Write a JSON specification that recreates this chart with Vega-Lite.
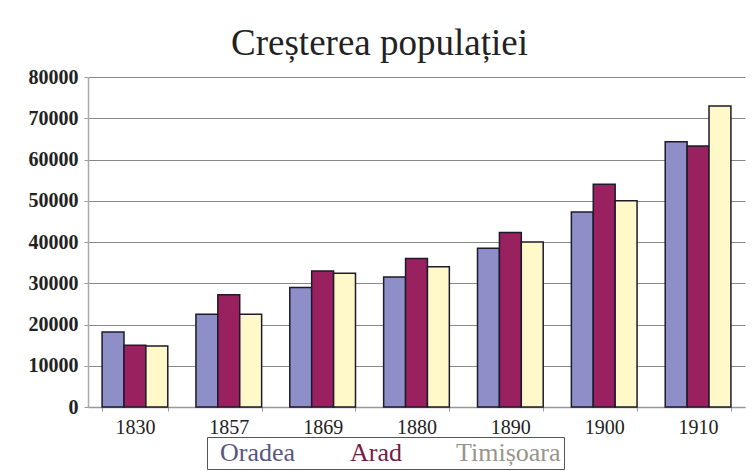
{
  "$schema": "https://vega.github.io/schema/vega-lite/v6.json",
  "width": 657,
  "height": 330,
  "autosize": "none",
  "padding": {"left": 88, "top": 77, "right": 8, "bottom": 64},
  "background": "white",
  "title": {
    "text": "Creșterea populației",
    "font": "Liberation Serif",
    "fontSize": 37,
    "fontWeight": "normal",
    "color": "#222222",
    "anchor": "middle",
    "dx": -37,
    "dy": 44,
    "baseline": "alphabetic",
    "offset": 19
  },
  "data": {
    "values": [
      {"year": "1830", "city": "Oradea", "population": 18200},
      {"year": "1830", "city": "Arad", "population": 15000},
      {"year": "1830", "city": "Timișoara", "population": 14800},
      {"year": "1857", "city": "Oradea", "population": 22500},
      {"year": "1857", "city": "Arad", "population": 27200},
      {"year": "1857", "city": "Timișoara", "population": 22500},
      {"year": "1869", "city": "Oradea", "population": 29000},
      {"year": "1869", "city": "Arad", "population": 33000},
      {"year": "1869", "city": "Timișoara", "population": 32400},
      {"year": "1880", "city": "Oradea", "population": 31500},
      {"year": "1880", "city": "Arad", "population": 36000},
      {"year": "1880", "city": "Timișoara", "population": 34000},
      {"year": "1890", "city": "Oradea", "population": 38500},
      {"year": "1890", "city": "Arad", "population": 42300},
      {"year": "1890", "city": "Timișoara", "population": 40000},
      {"year": "1900", "city": "Oradea", "population": 47300},
      {"year": "1900", "city": "Arad", "population": 54000},
      {"year": "1900", "city": "Timișoara", "population": 50000},
      {"year": "1910", "city": "Oradea", "population": 64300},
      {"year": "1910", "city": "Arad", "population": 63300},
      {"year": "1910", "city": "Timișoara", "population": 73000}
    ]
  },
  "mark": {"type": "bar", "stroke": "#1e1a2a", "strokeWidth": 1.5},
  "encoding": {
    "x": {
      "field": "year",
      "type": "nominal",
      "scale": {"paddingInner": 0.3, "paddingOuter": 0.15},
      "axis": {
        "title": null,
        "labelAngle": 0,
        "labelFont": "Liberation Serif",
        "labelFontSize": 20,
        "labelColor": "#222222",
        "labelPadding": 6,
        "domainColor": "#999999",
        "domainWidth": 1.5,
        "tickColor": "#999999",
        "tickSize": 4,
        "tickBand": "extent"
      }
    },
    "xOffset": {
      "field": "city",
      "type": "nominal",
      "sort": ["Oradea", "Arad", "Timișoara"],
      "scale": {"paddingInner": 0, "paddingOuter": 0}
    },
    "y": {
      "field": "population",
      "type": "quantitative",
      "scale": {"domain": [0, 80000], "nice": false},
      "axis": {
        "title": null,
        "values": [0, 10000, 20000, 30000, 40000, 50000, 60000, 70000, 80000],
        "format": "d",
        "labelFont": "Liberation Serif",
        "labelFontSize": 20,
        "labelFontWeight": "bold",
        "labelColor": "#222222",
        "labelPadding": 6,
        "domainColor": "#aaaaaa",
        "domainWidth": 1.5,
        "tickColor": "#999999",
        "tickSize": 4,
        "grid": true,
        "gridColor": "#888888",
        "gridWidth": 1.2
      }
    },
    "color": {
      "field": "city",
      "type": "nominal",
      "sort": ["Oradea", "Arad", "Timișoara"],
      "scale": {"domain": ["Oradea", "Arad", "Timișoara"], "range": ["#8e8ec8", "#9a2160", "#fff8c8"]},
      "legend": {
        "title": null,
        "orient": "none",
        "legendX": 119,
        "legendY": 360,
        "direction": "horizontal",
        "symbolType": "circle",
        "symbolSize": 1,
        "symbolStrokeWidth": 0,
        "symbolOpacity": 0,
        "labelOffset": -16,
        "labelFont": "Liberation Serif",
        "labelFontSize": 26,
        "labelColor": {"expr": "datum.value === 'Oradea' ? '#56567f' : datum.value === 'Arad' ? '#741c48' : '#97958b'"},
        "columnPadding": 44,
        "padding": 3,
        "strokeColor": "#555555",
        "fillColor": "white",
        "encode": {
          "legend": {
            "strokeWidth": {"value": 1.5}
          }
        }
      }
    }
  },
  "config": {
    "view": {"stroke": null},
    "legend": {"labelFont": "Liberation Serif", "labelFontSize": 26}
  }
}
